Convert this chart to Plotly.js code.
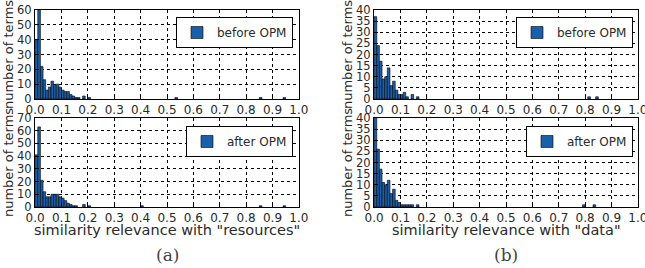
<!DOCTYPE html>
<html>
<head>
<meta charset="utf-8">
<script src="https://cdn.plot.ly/plotly-3.0.1.min.js"></script>
<style>html,body{margin:0;padding:0;background:#fff;}#chart{width:645px;height:268px;}</style>
</head>
<body>
<div id="chart"></div>
<script>
// Bin width of the histograms
const binWidth = 0.01;
// Counts for consecutive bins starting at 0.00
const aBeforeCounts = [40, 65, 22, 13, 6, 8, 12, 9, 10, 8, 6, 5, 5, 3, 2, 1, 1, 0, 2, 0, 1];
const aAfterCounts  = [41, 63, 21, 12, 8, 8, 10, 10, 10, 8, 7, 5, 3, 2, 1, 1, 0, 0, 2, 0, 1];
const bBeforeCounts = [37, 24, 17, 9, 10, 14, 6, 8, 4, 2, 2, 3, 1, 0, 2, 0, 1];
const bAfterCounts  = [42, 26, 17, 11, 10, 12, 6, 8, 3, 2, 1, 1, 1, 1, 1, 0, 1];
// Isolated bins further out: [bin start, count]
const aBeforeOutliers = [[0.53, 1], [0.85, 1], [0.94, 1]];
const aAfterOutliers  = [[0.40, 1], [0.85, 1], [0.94, 1]];
const bBeforeOutliers = [[0.81, 1], [0.84, 1]];
const bAfterOutliers  = [[0.79, 1], [0.83, 1]];
// Labels
const seriesNames = ['before OPM', 'after OPM'];
const xTitles = ['similarity relevance with "resources"', 'similarity relevance with "data"'];
const yTitle = 'number of terms';
const captions = ['(a)', '(b)'];
const xTickVals = [0.0, 0.1, 0.2, 0.3, 0.4, 0.5, 0.6, 0.7, 0.8, 0.9, 1.0];
const xTickText = ['0.0', '0.1', '0.2', '0.3', '0.4', '0.5', '0.6', '0.7', '0.8', '0.9', '1.0'];
const yRanges = [[0, 60], [0, 70], [0, 40], [0, 40]];
const yDtick = [10, 10, 5, 5];

const barColor = '#1a5faa';
const textColor = '#2a2a2a';
const font = 'DejaVu Sans, sans-serif';

function buildBins(counts, outliers) {
  const x = [], y = [];
  counts.forEach((c, i) => { if (c > 0) { x.push(+(i * binWidth).toFixed(2)); y.push(c); } });
  outliers.forEach(([s, c]) => { x.push(s); y.push(c); });
  return {x, y};
}

const panels = [
  {counts: aBeforeCounts, out: aBeforeOutliers, name: seriesNames[0]},
  {counts: aAfterCounts,  out: aAfterOutliers,  name: seriesNames[1]},
  {counts: bBeforeCounts, out: bBeforeOutliers, name: seriesNames[0]},
  {counts: bAfterCounts,  out: bAfterOutliers,  name: seriesNames[1]}
];

const W = 645, H = 268;
const xDom = [[35 / W, 299 / W], [374 / W, 638 / W]];
const yDomTop = [1 - 99 / H, 1 - 10 / H];
const yDomBot = [1 - 207 / H, 1 - 118 / H];

const traces = [];
const layout = {
  width: W, height: H,
  margin: {l: 0, r: 0, t: 0, b: 0},
  paper_bgcolor: '#fff', plot_bgcolor: '#fff',
  font: {family: font, color: textColor, size: 11},
  bargap: 0,
  annotations: [],
  showlegend: true
};

const legendPos = [
  {x: 293 / W, y: 1 - 17 / H},
  {x: 293 / W, y: 1 - 126 / H},
  {x: 633 / W, y: 1 - 17 / H},
  {x: 633 / W, y: 1 - 126 / H}
];

panels.forEach((p, k) => {
  const d = buildBins(p.counts, p.out);
  const idx = k + 1;
  const legName = k === 0 ? 'legend' : 'legend' + idx;
  traces.push({
    type: 'bar', x: d.x, y: d.y, name: p.name,
    width: binWidth, offset: 0,
    marker: {color: barColor, line: {color: '#000', width: 0.6}},
    xaxis: 'x' + (idx === 1 ? '' : idx), yaxis: 'y' + (idx === 1 ? '' : idx),
    legend: legName, showlegend: true, hoverinfo: 'x+y'
  });
  const col = k < 2 ? 0 : 1;
  const isBottom = (k % 2) === 1;
  const xa = {
    domain: xDom[col], range: [-0.0005, 1.0005],
    tickmode: 'array', tickvals: xTickVals, ticktext: xTickText,
    ticklabeloverflow: 'allow',
    showline: true, mirror: true, linecolor: '#000', linewidth: 1,
    showgrid: true, gridcolor: '#000', griddash: 'dot', gridwidth: 1,
    zeroline: false, ticks: 'inside', ticklen: 4, tickcolor: '#000',
    tickfont: {size: 12, color: textColor, family: font},
    anchor: 'y' + (idx === 1 ? '' : idx), fixedrange: true
  };
  const ya = {
    domain: isBottom ? yDomBot : yDomTop, range: yRanges[k], dtick: yDtick[k], tick0: 0,
    showline: true, mirror: true, linecolor: '#000', linewidth: 1,
    showgrid: true, gridcolor: '#000', griddash: 'dot', gridwidth: 1,
    zeroline: false, ticks: 'inside', ticklen: 4, tickcolor: '#000',
    tickfont: {size: 11.5, color: textColor, family: font},
    ticklabelstandoff: 0,
    title: {text: yTitle, font: {size: 13, color: textColor, family: font}, standoff: 0},
    anchor: 'x' + (idx === 1 ? '' : idx), fixedrange: true
  };
  layout['xaxis' + (idx === 1 ? '' : idx)] = xa;
  layout['yaxis' + (idx === 1 ? '' : idx)] = ya;
  layout[legName] = {
    x: legendPos[k].x, y: legendPos[k].y, xanchor: 'right', yanchor: 'top',
    bgcolor: '#fff', bordercolor: '#000', borderwidth: 1,
    font: {size: 12, color: textColor, family: font},
    itemwidth: 30, tracegroupgap: 0
  };
  if (isBottom) {
    layout.annotations.push({
      text: xTitles[col], xref: 'paper', yref: 'paper',
      x: (xDom[col][0] + xDom[col][1]) / 2, y: 1 - 230 / H,
      xanchor: 'center', yanchor: 'middle', showarrow: false,
      font: {size: 14.5, color: textColor, family: font}
    });
  }
});

captions.forEach((c, i) => {
  layout.annotations.push({
    text: c, xref: 'paper', yref: 'paper',
    x: (xDom[i][0] + xDom[i][1]) / 2, y: 1 - 255 / H,
    xanchor: 'center', yanchor: 'middle', showarrow: false,
    font: {family: 'DejaVu Serif, Liberation Serif, serif', size: 17, color: '#444'}
  });
});

Plotly.newPlot('chart', traces, layout, {displayModeBar: false, staticPlot: true});
</script>
</body>
</html>
